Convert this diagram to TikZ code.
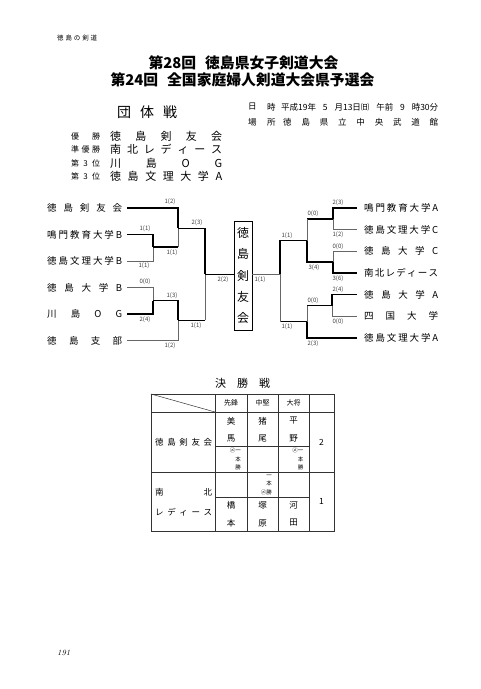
\documentclass[tikz,border=0pt]{standalone}
\usepackage{fontspec}
\newfontfamily\jp{Noto Sans CJK JP}
% spread the characters of #2 evenly over the width #1
\newcommand\spr[2]{\makebox[#1][s]{\sprloop#2\relax}}
\def\sprloop#1#2{#1\ifx#2\relax\else\hfill\expandafter\sprloop\expandafter#2\fi}

\tikzset{
  win/.style={line width=1.4pt},
  lose/.style={line width=.5pt,black!60},
  tabline/.style={line width=.5pt,black!80},
  team/.style={font=\jp\fontsize{9.5}{10}\selectfont,inner sep=0pt},
  score/.style={font=\jp\fontsize{6}{6}\selectfont,inner sep=0pt,black!75},
  when/.style={font=\jp\fontsize{8.5}{9}\selectfont,inner sep=0pt,anchor=west},
  rank/.style={font=\jp\fontsize{8}{8}\selectfont,inner sep=0pt,anchor=west},
  res/.style={font=\jp\fontsize{11}{11}\selectfont,inner sep=0pt,anchor=west},
  cell/.style={font=\jp\fontsize{8.5}{9}\selectfont,inner sep=0pt},
  hd/.style={font=\jp\fontsize{7}{7}\selectfont,inner sep=0pt},
  ippon/.style={font=\jp\fontsize{5.5}{8.3}\selectfont,inner sep=0pt,align=right,anchor=east},
}

\begin{document}
\begin{tikzpicture}[x=1pt,y=-1pt]
  \useasboundingbox (0,0) rectangle (480,689);

  % heading
  \node[font=\jp\fontsize{6.5}{7}\selectfont,inner sep=0pt,anchor=west] (head) at (57,38) {\spr{40pt}{徳島の剣道}};
  \node[font=\jp\bfseries\fontsize{14.8}{15}\selectfont] (title1) at (243.5,63) {第28回\hspace{.6em}徳島県女子剣道大会};
  \node[font=\jp\bfseries\fontsize{14.8}{15}\selectfont] (title2) at (242.5,80) {第24回\hspace{.6em}全国家庭婦人剣道大会県予選会};
  \node[font=\jp\fontsize{14}{14}\selectfont,inner sep=0pt,anchor=west] (dantai) at (117,112) {\spr{60pt}{団体戦}};

  % date and place
  \node[when] (day1) at (248,107) {日};
  \node[when] (day2) at (267,107) {時};
  \node[when] (day3) at (281,107) {\makebox[157pt][s]{平成19年\hfill 5\hfill 月13日㈰\hfill 午前\hfill 9\hfill 時30分}};
  \node[when] (pl1) at (248,122) {場};
  \node[when] (pl2) at (267,122) {所};
  \node[when] (pl3) at (283,122) {\spr{155pt}{徳島県立中央武道館}};

  % results
  \node[rank] (r1) at (71,136) {\spr{29pt}{優勝}};
  \node[rank] (r2) at (71,149.5) {\spr{29pt}{準優勝}};
  \node[rank] (r3) at (71,163) {\spr{29pt}{第3位}};
  \node[rank] (r4) at (71,176.5) {\spr{29pt}{第3位}};
  \node[res] (w1) at (110,136) {\spr{112pt}{徳島剣友会}};
  \node[res] (w2) at (110,149.5) {\spr{112pt}{南北レディース}};
  \node[res] (w3) at (110,163) {\spr{112pt}{川島OG}};
  \node[res] (w4) at (110,176.5) {\spr{112pt}{徳島文理大学A}};

  % bracket, left half
  \node[team,anchor=west] (tk) at (47,208) {\spr{75pt}{徳島剣友会}};
  \node[team,anchor=west] (nb) at (47,234.5) {\spr{75pt}{鳴門教育大学B}};
  \node[team,anchor=west] (bb) at (47,261) {\spr{75pt}{徳島文理大学B}};
  \node[team,anchor=west] (ub) at (47,287.5) {\spr{75pt}{徳島大学B}};
  \node[team,anchor=west] (ko) at (47,314) {\spr{75pt}{川島OG}};
  \node[team,anchor=west] (sb) at (47,340.5) {\spr{75pt}{徳島支部}};
  \coordinate (j1) at (153,247);
  \coordinate (j2) at (153,300.5);
  \coordinate (j3) at (178,228.3);
  \coordinate (j4) at (178,320.3);
  \coordinate (j5) at (205,274.3);

  \draw[win] ([xshift=5pt]tk.east) -| (j3);
  \draw[win] ([xshift=5pt]nb.east) -| (j1);
  \draw[lose] ([xshift=5pt]bb.east) -| (j1);
  \draw[lose] ([xshift=5pt]ub.east) -| (j2);
  \draw[win] ([xshift=5pt]ko.east) -| (j2);
  \draw[lose] ([xshift=5pt]sb.east) -| (j4);
  \draw[win] (j1) -- (j1 -| j3);
  \draw[lose] (j1 -| j3) -- (j3);
  \draw[win] (j2) -| (j4);
  \draw[win] (j3) -| (j5);
  \draw[win] (j4) -- (j4 -| j5);
  \draw[lose] (j4 -| j5) -- (j5);

  % champion
  \node[draw,line width=.7pt,minimum width=18pt,minimum height=109pt,inner sep=0pt,align=center,
    font=\jp\fontsize{12}{21.3}\selectfont] (champ) at (243,275.5) {徳\\島\\剣\\友\\会};
  \draw[win] (j5) -- (j5 -| champ.west);

  % bracket, right half
  \node[team,anchor=west] (na) at (364,208) {\spr{74pt}{鳴門教育大学A}};
  \node[team,anchor=west] (bc) at (364,229.7) {\spr{74pt}{徳島文理大学C}};
  \node[team,anchor=west] (uc) at (364,251.3) {\spr{74pt}{徳島大学C}};
  \node[team,anchor=west] (nl) at (364,273) {\spr{74pt}{南北レディース}};
  \node[team,anchor=west] (ua) at (364,294.7) {\spr{74pt}{徳島大学A}};
  \node[team,anchor=west] (sk) at (364,316.3) {\spr{74pt}{四国大学}};
  \node[team,anchor=west] (ba) at (364,338) {\spr{74pt}{徳島文理大学A}};
  \coordinate (k1) at (333,218.85);
  \coordinate (k2) at (333,262.15);
  \coordinate (k3) at (307,240.7);
  \coordinate (k4) at (332,305.5);
  \coordinate (k5) at (307,321.7);
  \coordinate (k7) at (280,274.3);

  \draw[win] ([xshift=-7pt]na.west) -| (k1);
  \draw[lose] ([xshift=-7pt]bc.west) -| (k1);
  \draw[lose] ([xshift=-7pt]uc.west) -| (k2);
  \draw[win] ([xshift=-7pt]nl.west) -| (k2);
  \draw[win] ([xshift=-7pt]ua.west) -| (k4);
  \draw[lose] ([xshift=-7pt]sk.west) -| (k4);
  \draw[win] ([xshift=-7pt]ba.west) -| (k5);
  \draw[win] (k1) -- (k1 -| k3);
  \draw[lose] (k1 -| k3) -- (k3);
  \draw[win] (k2) -| (k3);
  \draw[win] (k4) -- (k4 -| k5);
  \draw[lose] (k4 -| k5) -- (k5);
  \draw[win] (k3) -| (k7);
  \draw[win] (k5) -- (k5 -| k7);
  \draw[lose] (k5 -| k7) -- (k7);
  \draw[lose] (k7) -- (k7 -| champ.east);

  % scores
  \node[score] at (170,202) {1(2)};
  \node[score] at (145,229) {1(1)};
  \node[score] at (144,266) {1(1)};
  \node[score] at (172,252.5) {1(1)};
  \node[score] at (197,222.5) {2(3)};
  \node[score] at (145,282) {0(0)};
  \node[score] at (145,319.5) {2(4)};
  \node[score] at (172,295.5) {1(3)};
  \node[score] at (170,346) {1(2)};
  \node[score] at (196,325.5) {1(1)};
  \node[score] at (223,279.5) {2(2)};
  \node[score] at (260,279.5) {1(1)};
  \node[score] at (287,235.5) {1(1)};
  \node[score] at (313,214) {0(0)};
  \node[score] at (314,267.5) {3(4)};
  \node[score] at (338,203) {2(3)};
  \node[score] at (338,235) {1(2)};
  \node[score] at (338,246.5) {0(0)};
  \node[score] at (338,278.5) {3(6)};
  \node[score] at (287,327) {1(1)};
  \node[score] at (313,300.5) {0(0)};
  \node[score] at (338,290) {2(4)};
  \node[score] at (338,321.5) {0(0)};
  \node[score] at (313,343.5) {2(3)};

  % final
  \node[font=\jp\fontsize{11}{11}\selectfont,inner sep=0pt,anchor=west] (final) at (215,383) {\spr{55pt}{決勝戦}};
  \draw[tabline] (151,394) rectangle (334,531);
  \draw[tabline] (151,412) -- (334,412);
  \draw[tabline] (151,472) -- (334,472);
  \draw[tabline] (215,446) -- (309,446);
  \draw[tabline] (215,497) -- (309,497);
  \foreach \x in {215,247,278,309}
    \draw[tabline] (\x,394) -- (\x,531);
  \draw[tabline] (151,394) -- (215,412);

  \node[hd] at (231,403) {先鋒};
  \node[hd] at (262.5,403) {中堅};
  \node[hd] at (293.5,403) {大将};

  \node[cell,anchor=west] at (155,442) {\spr{57pt}{徳島剣友会}};
  \node[cell] at (231,421) {美};
  \node[cell] at (231,438) {馬};
  \node[cell] at (262.5,421) {猪};
  \node[cell] at (262.5,438) {尾};
  \node[cell] at (293.5,421) {平};
  \node[cell] at (293.5,438) {野};
  \node[ippon] at (241,459) {㋱一\\本\\勝};
  \node[ippon] at (303.5,459) {㋱一\\本\\勝};
  \node[cell] at (321.5,442) {2};

  \node[cell,anchor=west] at (155,492) {\spr{57pt}{南北}};
  \node[cell,anchor=west] at (155,512) {\spr{57pt}{レディース}};
  \node[ippon] at (272,485) {一\\本\\㋱勝};
  \node[cell] at (231,505) {橋};
  \node[cell] at (231,523) {本};
  \node[cell] at (262.5,505) {塚};
  \node[cell] at (262.5,523) {原};
  \node[cell] at (293.5,505) {河};
  \node[cell] at (293.5,523) {田};
  \node[cell] at (321.5,501) {1};

  % page number
  \node[font=\itshape\fontsize{8}{8}\selectfont,inner sep=0pt,anchor=west] (page) at (57,653) {191};
\end{tikzpicture}
\end{document}
